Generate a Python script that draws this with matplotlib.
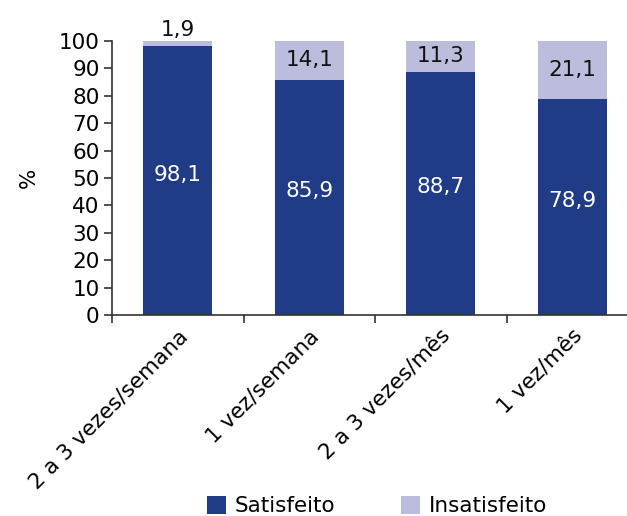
import matplotlib
matplotlib.use("Agg")
import matplotlib.pyplot as plt
import numpy as np

# Data
categories = ["2 a 3 vezes/semana", "1 vez/semana", "2 a 3 vezes/mês", "1 vez/mês"]
satisfeito = [98.1, 85.9, 88.7, 78.9]
insatisfeito = [1.9, 14.1, 11.3, 21.1]

dark = "#213c87"
light = "#bcbcdc"
fs = 15.5

plt.rcParams['font.family'] = ['DejaVu Sans']

fig = plt.figure(figsize=(6.27, 5.16), dpi=100)
ax = fig.add_axes([112 / 627, 201 / 516, 526 / 627, 274 / 516])

x = np.arange(len(categories))
w = 0.525
ax.bar(x, satisfeito, w, color=dark, label="Satisfeito")
ax.bar(x, insatisfeito, w, bottom=satisfeito, color=light, label="Insatisfeito")

def fmt(v):
    return f"{v:.1f}".replace(".", ",")

for i in range(len(categories)):
    s = satisfeito[i]
    n = insatisfeito[i]
    ax.text(x[i], s / 2, fmt(s), ha="center", va="baseline", color="white", fontsize=fs)
    if n < 5:
        ax.annotate(fmt(n), (x[i], s + n), xytext=(0, 1), textcoords="offset points",
                    ha="center", va="bottom", fontsize=fs, color="#111111")
    else:
        ax.text(x[i], s + n / 2, fmt(n), ha="center", va="center", fontsize=fs, color="#111111")

ax.set_xlim(-0.5, len(categories) - 0.5)
ax.set_ylim(0, 100)
ax.set_yticks(range(0, 101, 10))
ax.set_xticks(x)
ax.set_xticklabels(categories, rotation=45, ha="right", rotation_mode="anchor", fontsize=fs)
ax.set_xticks(np.arange(-0.5, len(categories), 1), minor=True)
ax.tick_params(axis="x", which="major", length=0, pad=8)
ax.tick_params(axis="x", which="minor", length=6, width=1.2, color="#333333", direction="out")
ax.tick_params(axis="y", length=6, width=1.2, color="#333333", labelsize=fs, pad=3)
ax.set_ylabel("%", fontsize=fs, labelpad=14)

for side in ["top", "right"]:
    ax.spines[side].set_visible(False)
for side in ["left", "bottom"]:
    ax.spines[side].set_linewidth(1.2)
    ax.spines[side].set_color("#333333")

fig.legend(loc="lower center", bbox_to_anchor=(377 / 627, -0.038), ncol=2, frameon=False,
           fontsize=fs, handlelength=0.9, handleheight=0.9, handletextpad=0.4,
           columnspacing=3.05)

fig.savefig("out.png", dpi=100)
